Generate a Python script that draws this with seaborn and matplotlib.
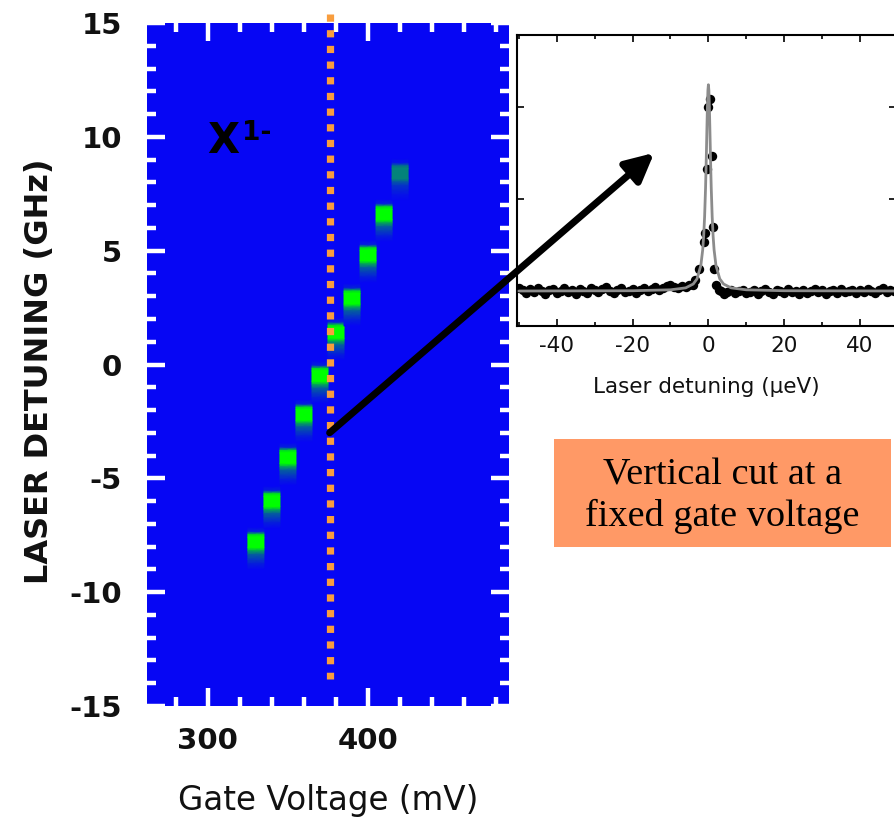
import numpy as np
import pandas as pd
import matplotlib
matplotlib.use("Agg")
import matplotlib.pyplot as plt
from matplotlib.colors import LinearSegmentedColormap
from matplotlib.patches import Rectangle
from matplotlib.ticker import MultipleLocator
import seaborn as sns

# ---------------- data: main map ----------------
gate_voltage_mV = [330, 340, 350, 360, 370, 380, 390, 400, 410, 420]
peak_detuning_GHz = [-7.8, -6.0, -4.1, -2.2, -0.5, 1.4, 2.9, 4.8, 6.6, 8.4]
peak_amplitude = [1.0, 1.0, 1.0, 1.0, 1.0, 1.0, 1.0, 1.0, 1.0, 0.5]
# vertical line shape of one spot (offset from peak, relative level)
spot_offset_GHz = [0.65, 0.45, 0.32, 0.22, -0.25, -0.38, -0.55, -0.75, -0.95, -1.2]
spot_profile = [0.0, 0.12, 0.85, 1.0, 1.0, 0.65, 0.35, 0.22, 0.1, 0.0]
cut_gate_mV = 376
map_yticks = [-15, -10, -5, 0, 5, 10, 15]
map_xticks = [300, 400]

# ---------------- data: inset (vertical cut) ----------------
base_left_x = np.arange(-50, -4)
base_left_y = [0.03, 0.01, -0.02, 0.02, -0.01, 0.03, 0.00, -0.03, 0.01, 0.02,
               -0.02, 0.00, 0.03, -0.01, 0.01, -0.03, 0.02, 0.00, -0.02, 0.03,
               0.01, -0.01, 0.02, 0.04, 0.00, -0.02, 0.01, 0.03, -0.01, 0.00,
               0.02, -0.02, 0.01, 0.03, 0.00, 0.02, 0.04, 0.01, 0.03, 0.05,
               0.06, 0.04, 0.03, 0.05, 0.04, 0.06]
base_right_x = np.arange(4, 50)
base_right_y = [-0.03, -0.01, 0.01, -0.02, 0.00, 0.01, -0.02, -0.01, 0.01, -0.03,
                0.00, 0.02, -0.01, -0.03, 0.01, 0.00, -0.02, 0.02, -0.01, 0.00,
                -0.03, 0.01, -0.02, 0.00, 0.02, -0.01, 0.01, -0.03, 0.00, 0.01,
                -0.02, 0.02, -0.01, 0.00, 0.01, -0.02, 0.01, -0.01, 0.02, 0.00,
                -0.02, 0.01, 0.03, -0.01, 0.01, 0.00]
peak_x = [-4.0, -3.5, -2.6, -1.2, -0.8, -0.4, -0.1, 0.5, 0.9, 1.2, 1.5, 2.0, 2.7, 3.4]
peak_y = [0.07, 0.12, 0.24, 0.53, 0.63, 1.32, 2.0, 2.08, 1.47, 0.69, 0.24, 0.06, 0.01, 0.0]
fit_x = [-50, -20, -10, -6, -4, -3, -2, -1.5, -1.25, -1, -0.75, -0.625, -0.5, -0.375,
         -0.25, -0.125, 0, 0.125, 0.25, 0.375, 0.5, 0.625, 0.75, 1, 1.25, 1.5, 2, 3,
         4, 6, 10, 20, 50]
fit_y = [0.0, 0.003, 0.013, 0.034, 0.076, 0.132, 0.276, 0.448, 0.593, 0.806, 1.12,
         1.323, 1.551, 1.792, 2.016, 2.18, 2.24, 2.18, 2.016, 1.792, 1.551, 1.323,
         1.12, 0.806, 0.593, 0.448, 0.276, 0.132, 0.076, 0.034, 0.013, 0.003, 0.0]
inset_xticks = [-40, -20, 0, 20, 40]

# ---------------- style ----------------
sns.set_style("white")
plt.rcParams["font.family"] = ["DejaVu Sans"]
plt.rcParams["axes.unicode_minus"] = False

W, H = 895, 817
fig = plt.figure(figsize=(W / 100, H / 100), dpi=100)

def fig_rect(left, top, right, bottom):
    return [left / W, 1 - bottom / H, (right - left) / W, (bottom - top) / H]

BLUE = "#0606F4"
cmap = LinearSegmentedColormap.from_list("bluegreen", [BLUE, "#00FF00"])

# ---------------- main map ----------------
ax = fig.add_axes(fig_rect(147, 23, 509, 706))
ax.set_facecolor(BLUE)
for gv, pk, amp in zip(gate_voltage_mV, peak_detuning_GHz, peak_amplitude):
    yy = np.array(spot_offset_GHz) + pk
    X = np.column_stack([np.full_like(yy, gv - 5.0), np.full_like(yy, gv + 5.0)])
    Y = np.column_stack([yy, yy])
    C = np.column_stack([np.array(spot_profile) * amp] * 2)
    ax.pcolormesh(X, Y, C, shading="gouraud", cmap=cmap, vmin=0, vmax=1,
                  antialiased=False, zorder=1)
ax.set_xlim(262, 488)
ax.set_ylim(-15, 15)
ax.set_xticks(map_xticks)
ax.set_yticks(map_yticks)
ax.xaxis.set_minor_locator(MultipleLocator(20))
ax.yaxis.set_minor_locator(MultipleLocator(1))
for s in ax.spines.values():
    s.set_visible(False)
ax.tick_params(which="both", direction="in", color="white", width=3.2,
               top=True, bottom=True, left=True, right=True)
ax.tick_params(which="major", length=13)
ax.tick_params(which="minor", length=6.5)
ax.tick_params(axis="y", which="major", pad=18, labelsize=21, labelcolor="#111111")
ax.tick_params(axis="x", which="major", pad=15, labelsize=21, labelcolor="#111111")
for lab in ax.get_xticklabels() + ax.get_yticklabels():
    lab.set_fontweight("bold")
ax.set_xlabel("Gate Voltage (mV)", fontsize=23.5, color="#111111", labelpad=21)
ax.set_ylabel("LASER DETUNING (GHz)", fontsize=23, fontweight="bold", color="#111111")
ax.yaxis.set_label_coords(-0.255, 0.49)

ax.plot([cut_gate_mV, cut_gate_mV], [15.4, -13.8], color="#F89D3E", lw=5.2,
        linestyle=(0, (1.0, 1.17)), dash_capstyle="butt", clip_on=False, zorder=3)

ax.text(299.4, 9.27, "X", fontsize=30, fontweight="bold", color="black",
        ha="left", va="baseline", zorder=4)
ax.text(321.0, 9.84, "1-", fontsize=19, fontweight="bold", color="black",
        ha="left", va="baseline", zorder=4)

# ---------------- inset ----------------
ax2 = fig.add_axes(fig_rect(517, 35, 896, 326))
ax2.set_facecolor("white")
dots = pd.DataFrame({
    "detuning": list(base_left_x) + peak_x + list(base_right_x),
    "signal": base_left_y + peak_y + base_right_y,
})
fit = pd.DataFrame({"detuning": fit_x, "signal": fit_y})
sns.scatterplot(data=dots, x="detuning", y="signal", ax=ax2, color="black",
                s=46, linewidth=0, zorder=2)
sns.lineplot(data=fit, x="detuning", y="signal", ax=ax2, color="#8C8C8C",
             lw=2, zorder=3, sort=False)
ax2.set_xlim(-50.5, 49.5)
ax2.set_ylim(-0.38, 2.78)
ax2.set_xticks(inset_xticks)
ax2.xaxis.set_minor_locator(MultipleLocator(10))
ax2.set_yticks([0, 1, 2])
ax2.set_yticklabels([])
for s in ax2.spines.values():
    s.set_visible(True)
    s.set_color("black")
    s.set_linewidth(1.5)
ax2.tick_params(which="both", direction="in", color="black", width=1.2,
                top=True, bottom=True, left=True, right=True, labelleft=False)
ax2.tick_params(which="major", length=5)
ax2.tick_params(which="minor", length=3)
ax2.tick_params(axis="x", labelsize=15.5, pad=7, labelcolor="#111111")
ax2.set_xlabel("Laser detuning (\u00b5eV)", fontsize=15.5, color="#111111", labelpad=15)
ax2.set_ylabel("")

# arrow from the cut line to the inset
ax2.annotate("", xy=(-14.3, 1.5), xycoords="data",
             xytext=(cut_gate_mV, -3.0), textcoords=ax.transData,
             arrowprops=dict(arrowstyle="-|>,head_length=1.0,head_width=0.5",
                             color="black", lw=5, mutation_scale=17,
                             shrinkA=0, shrinkB=0),
             annotation_clip=False, zorder=10)

# ---------------- annotation box ----------------
fig.patches.append(Rectangle((554 / W, 1 - 547 / H), (891 - 554) / W, (547 - 439) / H,
                             transform=fig.transFigure, facecolor="#FF9966",
                             edgecolor="none", zorder=5))
fig.text(722.5 / W, 1 - 496 / H, "Vertical cut at a\nfixed gate voltage",
         family="Liberation Serif", fontsize=27.5, ha="center", va="center",
         linespacing=1.2, color="black", zorder=6)

fig.savefig("out.png", dpi=100)
